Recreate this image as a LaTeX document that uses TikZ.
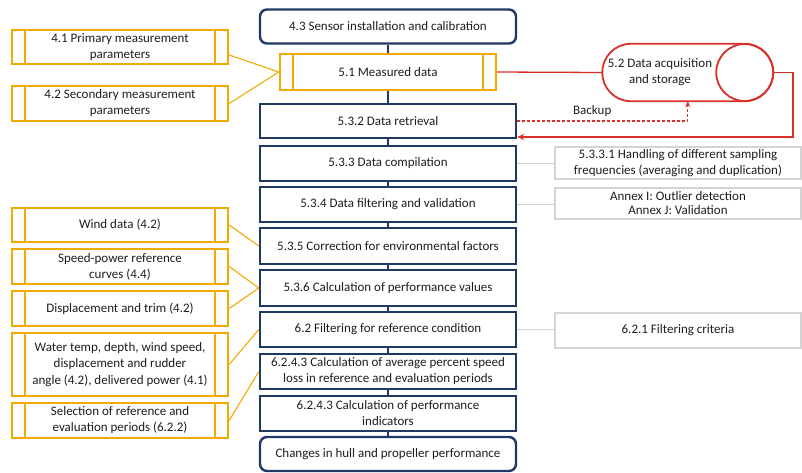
\documentclass[tikz,border=0pt]{standalone}
\usepackage{fontspec}
\setmainfont{Carlito}
\usetikzlibrary{arrows.meta}
\definecolor{navy}{RGB}{31,56,100}
\definecolor{gold}{RGB}{242,170,0}
\definecolor{redc}{RGB}{218,48,40}
\definecolor{grayc}{RGB}{212,212,212}
\definecolor{txt}{RGB}{30,30,30}
\tikzset{
  every node/.style={font=\fontsize{13}{16}\selectfont, text=txt, align=center, inner sep=0pt},
  mainbox/.style={draw=navy, line width=2.4pt, fill=white, minimum width=256pt, minimum height=34pt},
  roundbox/.style={mainbox, rounded corners=7pt},
  goldbox/.style={draw=gold, line width=2.4pt, fill=white, minimum width=216pt, minimum height=34pt,
    path picture={\draw[gold, line width=1.1pt]
      ([xshift=13pt]path picture bounding box.north west) -- ([xshift=13pt]path picture bounding box.south west)
      ([xshift=-13pt]path picture bounding box.north east) -- ([xshift=-13pt]path picture bounding box.south east);}},
  graybox/.style={draw=grayc, line width=2pt, fill=white, minimum width=246pt, minimum height=32pt},
  navyline/.style={draw=navy, line width=1.4pt},
  goldline/.style={draw=gold, line width=1.1pt},
  grayline/.style={draw=grayc, line width=1.1pt},
  redline/.style={draw=redc, line width=1.3pt},
}
\begin{document}
\begin{tikzpicture}[x=1pt,y=-1pt]
\useasboundingbox (0,0) rectangle (802,472);
% main column
\node[roundbox] (n43) at (388,26.5) {4.3 Sensor installation and calibration};
\node[goldbox, minimum height=36pt] (n51) at (388,72) {5.1 Measured data};
\node[mainbox] (n532) at (388,121) {5.3.2 Data retrieval};
\node[mainbox, minimum height=35pt] (n533) at (388,163.5) {5.3.3 Data compilation};
\node[mainbox, minimum height=35pt] (n534) at (388,204.5) {5.3.4 Data filtering and validation};
\node[mainbox, minimum height=36pt] (n535) at (388,246) {5.3.5 Correction for environmental\ factors};
\node[mainbox, minimum height=36pt] (n536) at (388,288) {5.3.6 Calculation of performance values};
\node[mainbox, minimum height=35pt] (n62) at (388,329.5) {6.2 Filtering for reference condition};
\node[mainbox, minimum height=35pt] (n6243a) at (388,371.5) {6.2.4.3 Calculation of average percent speed\\loss in reference and evaluation periods};
\node[mainbox, minimum height=35pt] (n6243b) at (388,413.5) {6.2.4.3 Calculation of performance\\indicators};
\node[roundbox] (nchg) at (388,454) {Changes in hull and propeller performance};
% left inputs
\node[goldbox] (n41) at (120,47) {4.1 Primary measurement\\parameters};
\node[goldbox, minimum height=35pt] (n42) at (120,103.5) {4.2 Secondary measurement\\parameters};
\node[goldbox] (nwind) at (120,225) {Wind data (4.2)};
\node[goldbox, minimum height=35pt] (nspeed) at (120,266.5) {Speed-power reference\\curves (4.4)};
\node[goldbox, minimum height=35pt] (ndisp) at (120,308.5) {Displacement and trim (4.2)};
\node[goldbox, minimum height=63pt, font=\fontsize{13}{16.5}\selectfont] (nwater) at (120,364.5) {Water temp, depth, wind speed,\\displacement and rudder\\angle (4.2), delivered power (4.1)};
\node[goldbox, minimum height=35pt] (nsel) at (120,420.5) {Selection of reference and\\evaluation periods (6.2.2)};
% right references
\node[graybox] (n5331) at (678,163) {5.3.3.1 Handling of different sampling\\frequencies (averaging and duplication)};
\node[graybox, minimum height=31pt, font=\fontsize{13}{14}\selectfont] (nannex) at (678,203.5) {Annex I: Outlier detection\\Annex J: Validation};
\node[graybox, minimum height=35pt] (n621) at (678,330.5) {6.2.1 Filtering criteria};
% data acquisition and storage
\node[minimum width=170.5pt, minimum height=57pt] (n52) at (687.75,72.5) {};
\draw[redc, line width=1.8pt, fill=white, rounded corners=28.5pt] (n52.north west) rectangle (n52.south east);
\draw[redc, line width=1.8pt] ([xshift=-28.5pt]n52.east) circle[radius=28.5pt];
\node (n52t) at (660,72.5) {5.2 Data acquisition\\and storage};
% vertical connectors
\foreach \a/\b in {n43/n51, n51/n532, n532/n533, n533/n534, n534/n535, n535/n536, n536/n62, n62/n6243a, n6243a/n6243b, n6243b/nchg}
  \draw[navyline] (\a.south) -- (\b.north);
% gold connectors
\draw[goldline] ([yshift=-8pt]n41.east) -- (n51.west);
\draw[goldline] (n42.east) -- (n51.west);
\draw[goldline] (nwind.east) -- (n535.west);
\draw[goldline] (nspeed.east) -- (n536.west);
\draw[goldline] (ndisp.east) -- (n536.west);
\draw[goldline] (nwater.east) -- (n62.west);
\draw[goldline] (nsel.east) -- (n6243a.west);
% gray connectors
\draw[grayline] (n533.east) -- (n533.east -| n5331.west);
\draw[grayline] (n534.east) -- (n534.east -| nannex.west);
\draw[grayline] (n62.east) -- (n62.east -| n621.west);
% red connectors
\coordinate (rr) at (793,0);
\draw[redline] (n51.east) -- (n52.west);
\draw[redline, -{Stealth[length=7pt,width=6pt]}] (n52.east) -- (n52.east -| rr) |- ([yshift=-16pt]n532.east);
\draw[redline, dashed, dash pattern=on 3pt off 2pt, -{Stealth[length=6pt,width=5pt]}] (n532.east) -| (n52.south)
  node[pos=0.22, above=4pt, text=txt] {Backup};
\end{tikzpicture}
\end{document}
